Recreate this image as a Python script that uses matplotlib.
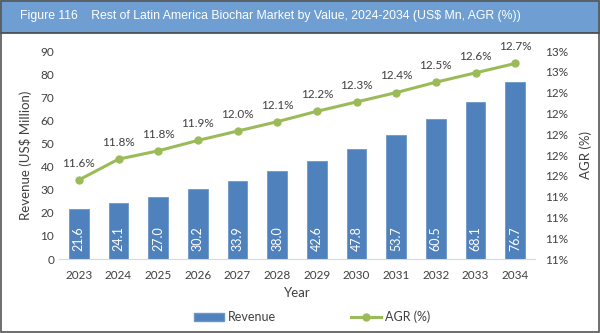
import matplotlib.pyplot as plt
from matplotlib.patches import Rectangle
from matplotlib.lines import Line2D
from matplotlib.ticker import FuncFormatter, MultipleLocator

years = ['2023', '2024', '2025', '2026', '2027', '2028', '2029', '2030', '2031', '2032', '2033', '2034']
revenue = [21.6, 24.1, 27.0, 30.2, 33.9, 38.0, 42.6, 47.8, 53.7, 60.5, 68.1, 76.7]
agr = [11.56, 11.76, 11.84, 11.94, 12.03, 12.12, 12.22, 12.31, 12.40, 12.50, 12.59, 12.68]

bar_color = '#4f81bd'
line_color = '#9bbb59'
text_color = '#404040'
plt.rcParams['font.family'] = ['Lato', 'DejaVu Sans']

fig = plt.figure(figsize=(6, 3.33), dpi=100)
W, H = 600, 333

# title banner and frame
fig.patches.append(Rectangle((0, 1 - 33 / H), 1, 33 / H, transform=fig.transFigure,
                             facecolor='#6f9fd2', edgecolor='none', zorder=0))
fig.patches.append(Rectangle((0.002, 0.003), 0.996, 0.994, transform=fig.transFigure,
                             facecolor='none', edgecolor='#555555', lw=1.2, zorder=5))
fig.lines.append(Line2D([0, 1], [1 - 33 / H, 1 - 33 / H], transform=fig.transFigure,
                        color='#444444', lw=1.2))
fig.text(20 / W, 1 - 16 / H, 'Figure 116    Rest of Latin America Biochar Market by Value, 2024-2034 (US$ Mn, AGR (%))',
         color='white', fontsize=8.8, va='center', ha='left', family='Liberation Sans')

ax = fig.add_axes([59 / W, 1 - 259 / H, (535 - 59) / W, (259 - 51) / H])
x = range(len(years))
ax.bar(x, revenue, width=0.5, color=bar_color, edgecolor='#6d97c9', lw=0.6, zorder=2)
for xi, v in zip(x, revenue):
    ax.text(xi, 8.8, f'{v:.1f}', rotation=90, color='white', ha='center', va='center', fontsize=9)

ax.set_xlim(-0.5, len(years) - 0.5)
ax.set_ylim(0, 90)
ax.yaxis.set_major_locator(MultipleLocator(10))
ax.set_xticks(list(x))
ax.set_xticklabels(years)
ax.tick_params(length=0, colors=text_color, labelsize=8.5)
ax.tick_params(axis='x', pad=8)
for s in ['top', 'right', 'left']:
    ax.spines[s].set_visible(False)
ax.spines['bottom'].set_color('#d9d9d9')
ax.set_xlabel('Year', color=text_color, fontsize=9.5, labelpad=4)
ax.set_ylabel('Revenue (US$ Million)', color=text_color, fontsize=9.5, labelpad=6)

ax2 = ax.twinx()
ax2.plot(list(x), agr, color=line_color, lw=2.2, marker='o', markersize=5, zorder=3)
for xi, v in zip(x, agr):
    ax2.annotate(f'{v:.1f}%', (xi, v), xytext=(0, 8), textcoords='offset points',
                 ha='center', va='bottom', color=text_color, fontsize=8.5)
ax2.set_ylim(10.8, 12.8)
ax2.yaxis.set_major_locator(MultipleLocator(0.2))
ax2.yaxis.set_major_formatter(FuncFormatter(lambda v, p: f'{v:.0f}%'))
ax2.tick_params(length=0, colors=text_color, labelsize=8.5, pad=7)
for s in ['top', 'right', 'left', 'bottom']:
    ax2.spines[s].set_visible(False)
ax2.set_ylabel('AGR (%)', color=text_color, fontsize=9.5, labelpad=8)

handles = [Rectangle((0, 0), 1, 1, facecolor=bar_color, edgecolor='#6d97c9'),
           Line2D([0], [0], color=line_color, lw=2.2, marker='o', markersize=5)]
fig.legend(handles, ['Revenue', 'AGR (%)'], loc='center', bbox_to_anchor=(312 / W, 1 - 317 / H),
           ncol=2, frameon=False, fontsize=9, labelcolor=text_color, columnspacing=6,
           handlelength=2.4, handletextpad=0.3)

fig.savefig('out.png', dpi=100)
